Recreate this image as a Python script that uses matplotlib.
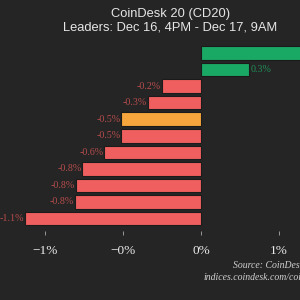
import matplotlib
matplotlib.use("Agg")
import matplotlib.pyplot as plt

# chart data (values in %), top to bottom
values = [0.9, 0.31, -0.25, -0.34, -0.51, -0.51, -0.62, -0.76, -0.80, -0.81, -1.13]
highlight = 4  # the CD20 index bar
tick_values = [-1.0, -0.5, 0.0, 0.5]
tick_labels = ["\u22121%", "\u22120%", "0%", "1%"]

title = "CoinDesk 20 (CD20)"
subtitle = "Leaders: Dec 16, 4PM - Dec 17, 9AM"
source_lines = ["Source: CoinDesk", "indices.coindesk.com/coindesk-20"]

BG = "#252525"
GREEN = "#1aa865"
RED = "#f05f5f"
ORANGE = "#f6a63c"

fig = plt.figure(figsize=(3, 3), dpi=100, facecolor=BG)
# axes spans full width; pixel coords -> figure fraction
ax = fig.add_axes([0, (300 - 231) / 300, 1, (231 - 40) / 300])
ax.set_facecolor(BG)
xmin, xmax = -201 / 156, 99 / 156

colors = []
for i, v in enumerate(values):
    if i == highlight:
        colors.append(ORANGE)
    elif v >= 0:
        colors.append(GREEN)
    else:
        colors.append(RED)

ypos = list(range(len(values)))
ax.barh(ypos, values, height=0.82, color=colors, edgecolor="#1b1b1b", linewidth=0.8)

for y, v in zip(ypos, values):
    lbl = f"{v:.1f}%"
    if v >= 0:
        if v > xmax - 0.1:
            continue  # label falls outside the visible area
        ax.text(v + 0.01, y, lbl, ha="left", va="center", fontsize=7.2,
                family="Liberation Serif", color="#1f8f58")
    else:
        ax.text(v - 0.006, y, lbl, ha="right", va="center", fontsize=7.2,
                family="Liberation Serif", color="#b84c4c")

ax.set_xlim(xmin, xmax)
ax.set_ylim(10.76, -0.79)

for s in ax.spines.values():
    s.set_visible(False)
ax.set_yticks([])
ax.set_xticks(tick_values)
ax.set_xticklabels(tick_labels, family="Liberation Serif", fontsize=9.5,
                   color="#ececec")
ax.tick_params(axis="x", length=3, width=0.6, color="#aaaaaa", pad=7)

fig.text(171 / 300, 1 - 14 / 300, title, ha="center", va="center",
         fontsize=9.3, color="#e6e6e6", family="Liberation Sans")
fig.text(170 / 300, 1 - 28 / 300, subtitle, ha="center", va="center",
         fontsize=9.3, color="#e6e6e6", family="Liberation Sans")

fig.text(233 / 300, 1 - 265 / 300, source_lines[0], ha="left", va="center",
         fontsize=7, style="italic", color="#d0d0d0", family="Liberation Serif")
fig.text(203 / 300, 1 - 277 / 300, source_lines[1], ha="left", va="center",
         fontsize=7, style="italic", color="#d0d0d0", family="Liberation Serif")

fig.savefig("out.png", dpi=100, facecolor=BG)
